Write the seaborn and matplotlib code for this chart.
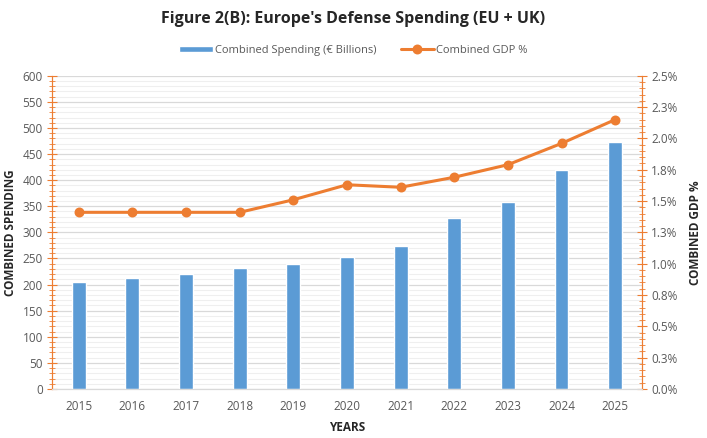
import pandas as pd
import seaborn as sns
import matplotlib.pyplot as plt
from matplotlib.ticker import MultipleLocator, FixedLocator

years = ["2015", "2016", "2017", "2018", "2019", "2020", "2021", "2022", "2023", "2024", "2025"]
spending = [204, 212, 220, 231, 239, 252, 273, 327, 358, 419, 473]
gdp_pct = [1.41, 1.41, 1.41, 1.41, 1.51, 1.63, 1.61, 1.69, 1.79, 1.96, 2.15]
gdp_ticks = [0, 0.25, 0.5, 0.75, 1.0, 1.25, 1.5, 1.75, 2.0, 2.25, 2.5]
gdp_tick_labels = ["0.0%", "0.3%", "0.5%", "0.8%", "1.0%", "1.3%", "1.5%", "1.8%", "2.0%", "2.3%", "2.5%"]

df = pd.DataFrame({"year": years, "spending": spending, "gdp": gdp_pct})

sns.set_style("white")
plt.rcParams["font.family"] = ["Open Sans", "DejaVu Sans"]

blue = "#5B9BD5"
orange = "#ED7D31"
grey_txt = "#595959"

fig = plt.figure(figsize=(7.07, 4.38), dpi=100)
ax = fig.add_axes([0.0735, 0.112, 0.8345, 0.715])

sns.barplot(data=df, x="year", y="spending", color=blue, width=0.26,
            saturation=1, ax=ax, label="Combined Spending (€ Billions)", zorder=3)
ax.set_ylim(0, 600)
ax.yaxis.set_major_locator(MultipleLocator(50))
ax.yaxis.set_minor_locator(MultipleLocator(10))
ax.grid(axis="y", which="major", color="#D9D9D9", lw=0.9, zorder=0)
ax.grid(axis="y", which="minor", color="#EFEFEF", lw=0.8, zorder=0)
ax.set_axisbelow(True)

ax2 = ax.twinx()
sns.pointplot(data=df, x="year", y="gdp", color=orange, ax=ax2, markers="o",
              markersize=5.5, linewidth=2.2, label="Combined GDP %")
ax2.set_ylim(0, 2.5)
ax2.yaxis.set_major_locator(FixedLocator(gdp_ticks))
ax2.yaxis.set_minor_locator(MultipleLocator(0.05))
ax2.set_yticklabels(gdp_tick_labels)
ax.set_xlim(-0.5, len(years) - 0.5)
ax2.set_xlim(-0.5, len(years) - 0.5)

for a in (ax, ax2):
    a.spines["top"].set_visible(False)
    a.spines["left"].set_color(orange)
    a.spines["right"].set_color(orange)
    a.spines["bottom"].set_color("#D9D9D9")
    a.spines["left"].set_linewidth(0.8)
    a.spines["right"].set_linewidth(0.8)

ax.tick_params(axis="y", which="major", direction="inout", length=7, color=orange,
               labelsize=8.5, labelcolor=grey_txt, pad=3)
ax.tick_params(axis="y", which="minor", direction="inout", length=5, color=orange)
ax2.tick_params(axis="y", which="major", direction="inout", length=7, color=orange,
                labelsize=8.5, labelcolor=grey_txt, pad=3)
ax2.tick_params(axis="y", which="minor", direction="inout", length=5, color=orange)

ax.set_xticks([i + 0.5 for i in range(len(years) - 1)], minor=True)
ax.set_xticks(range(len(years)))
ax.set_xticklabels(years)
ax.tick_params(axis="x", which="major", length=0, labelsize=8.5, labelcolor=grey_txt, pad=8)
ax.tick_params(axis="x", which="minor", length=4, color="#D9D9D9", direction="out")

ax.set_xlabel("YEARS", fontsize=8.5, fontweight="bold", labelpad=6)
ax.set_ylabel("COMBINED SPENDING", fontsize=8.5, fontweight="bold", labelpad=4)
ax2.set_ylabel("COMBINED GDP %", fontsize=8.5, fontweight="bold", labelpad=8)

fig.suptitle("Figure 2(B): Europe's Defense Spending (EU + UK)", fontsize=11.5,
             fontweight="bold", y=0.975)

h1, l1 = ax.get_legend_handles_labels()
h2, l2 = ax2.get_legend_handles_labels()
if ax.get_legend():
    ax.get_legend().remove()
if ax2.get_legend():
    ax2.get_legend().remove()
fig.legend(h1 + h2, l1 + l2, loc="center", bbox_to_anchor=(0.5, 0.885), ncol=2,
           frameon=False, fontsize=8, labelcolor=grey_txt, handlelength=3.0,
           handleheight=0.45, handletextpad=0.2, columnspacing=2.2)

fig.savefig("out.png", dpi=100)
